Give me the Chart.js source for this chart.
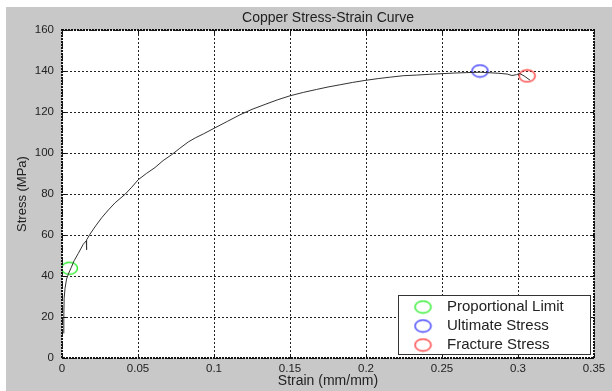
<!DOCTYPE html>
<html lang="en">
<head>
  <meta charset="UTF-8">
  <title>Copper Stress-Strain Curve</title>
  <style>
    html, body { margin: 0; padding: 0; background: #ffffff; }
    .chartBox { width: 612px; height: 391px; }
  </style>
</head>
<body>
<div class="chartBox">
  <canvas id="myChart" width="612" height="391"></canvas>
</div>
<script src="https://cdn.jsdelivr.net/npm/chart.js"></script>
<script>
  // curve
  const strain = [0.0012, 0.0012, 0.0014, 0.0020, 0.0030, 0.0045, 0.0060, 0.0080, 0.0107, 0.0140,
    0.0160, 0.0161, 0.0163, 0.0184, 0.0222, 0.0261, 0.0305, 0.0349, 0.0414, 0.0455,
    0.0502, 0.0555, 0.0612, 0.0665, 0.0722, 0.0775, 0.0831, 0.0880, 0.0930, 0.1007,
    0.1090, 0.1170, 0.1250, 0.1336, 0.1420, 0.1500, 0.1590, 0.1675, 0.1750, 0.1830,
    0.1910, 0.1993, 0.2080, 0.2160, 0.2245, 0.2330, 0.2420, 0.2500, 0.2580, 0.2660,
    0.2750, 0.2800, 0.2870, 0.2930, 0.2960, 0.2990, 0.3010, 0.3040, 0.3080];
  const stress = [12, 20, 29, 34, 38.5, 41.5, 44, 47.5, 51, 55.5,
    57.2, 52.8, 57.6, 60.4, 64.5, 68.4, 72.2, 75.7, 79.8, 83,
    87, 90, 92.9, 96.3, 99.2, 102.3, 105.4, 107.5, 109.3, 112.3,
    115.5, 118.6, 121.3, 123.7, 126.0, 127.9, 129.6, 131.0, 132.2, 133.3,
    134.4, 135.4, 136.3, 137.0, 137.7, 138.0, 138.4, 138.7, 139.0, 139.2,
    139.4, 139.2, 138.9, 138.5, 137.8, 138.2, 138.8, 137.6, 135.5];

  const markerLabels = ['Proportional Limit', 'Ultimate Stress', 'Fracture Stress'];
  const markerStrain = [0.0049, 0.275, 0.306];
  const markerStress = [43.8, 140, 137.6];
  const markerColors = ['#33ee33', '#4444ff', '#ff4444'];

  const xTicks = [0, 0.05, 0.1, 0.15, 0.2, 0.25, 0.3, 0.35];
  const yTicks = [0, 20, 40, 60, 80, 100, 120, 140, 160];

  const FONT = '"Liberation Sans", Arial, sans-serif';

  // ellipse marker drawn once on a small canvas
  function makeMarker(color) {
    const c = document.createElement('canvas');
    c.width = 19;
    c.height = 15;
    const g = c.getContext('2d');
    g.strokeStyle = color;
    g.lineWidth = 1.5;
    g.beginPath();
    g.ellipse(9.5, 7.5, 8, 6, 0, 0, Math.PI * 2);
    g.stroke();
    return c;
  }
  const markerImgs = markerColors.map(makeMarker);

  let datasets = [{
    label: 'curve',
    data: strain.map((s, i) => ({x: s, y: stress[i]})),
    showLine: true,
    borderColor: '#333333',
    borderWidth: 1,
    pointRadius: 0,
    tension: 0
  }];
  for (let i = 0; i < markerLabels.length; i++) {
    datasets.push({
      label: markerLabels[i],
      data: [{x: markerStrain[i], y: markerStress[i]}],
      pointStyle: markerImgs[i],
      borderColor: markerColors[i],
      showLine: false
    });
  }

  // gray figure background, white strip at top/left edge
  const bgPlugin = {
    id: 'bg',
    beforeDraw(chart) {
      const c = chart.ctx;
      c.save();
      c.fillStyle = '#ffffff';
      c.fillRect(0, 0, chart.width, chart.height);
      c.fillStyle = '#c8c8c8';
      c.fillRect(6, 7, chart.width - 6, chart.height - 7);
      const a = chart.chartArea;
      c.fillStyle = '#ffffff';
      c.fillRect(a.left, a.top, a.right - a.left, a.bottom - a.top);
      c.restore();
    }
  };

  // dotted frame, inner ticks and legend box
  const framePlugin = {
    id: 'frame',
    afterDatasetsDraw(chart) {
      const c = chart.ctx;
      const a = chart.chartArea;
      c.save();
      c.strokeStyle = '#111111';
      c.lineWidth = 2;
      c.setLineDash([2, 1]);
      c.strokeRect(a.left, a.top, a.right - a.left, a.bottom - a.top);
      c.setLineDash([]);
      c.lineWidth = 1;
      xTicks.forEach(v => {
        const px = Math.round(chart.scales.x.getPixelForValue(v)) + 0.5;
        c.beginPath();
        c.moveTo(px, a.bottom); c.lineTo(px, a.bottom - 4);
        c.moveTo(px, a.top); c.lineTo(px, a.top + 4);
        c.stroke();
      });
      yTicks.forEach(v => {
        const py = Math.round(chart.scales.y.getPixelForValue(v)) + 0.5;
        c.beginPath();
        c.moveTo(a.left, py); c.lineTo(a.left + 4, py);
        c.moveTo(a.right, py); c.lineTo(a.right - 4, py);
        c.stroke();
      });

      // legend
      const bx = a.right - 196, by = a.bottom - 63, bw = 192, bh = 59;
      c.fillStyle = '#ffffff';
      c.fillRect(bx, by, bw, bh);
      c.strokeStyle = '#333333';
      c.lineWidth = 1;
      c.strokeRect(bx + 0.5, by + 0.5, bw, bh);
      c.font = '15px ' + FONT;
      c.fillStyle = '#222222';
      c.textBaseline = 'middle';
      for (let i = 1; i < chart.data.datasets.length; i++) {
        const ds = chart.data.datasets[i];
        const cy = by + 12 + (i - 1) * 19;
        c.drawImage(ds.pointStyle, bx + 25 - 9.5, cy - 7.5);
        c.fillText(ds.label, bx + 49, cy);
      }
      c.restore();
    }
  };

  const ctx = document.getElementById('myChart');
  const myChart = new Chart(ctx, {
    type: 'scatter',
    data: {datasets: datasets},
    options: {
      responsive: false,
      animation: false,
      layout: {padding: {top: 0, right: 18, bottom: 0, left: 0}},
      plugins: {
        legend: {display: false},
        tooltip: {enabled: false},
        title: {
          display: true,
          text: 'Copper Stress-Strain Curve',
          fullSize: false,
          color: '#222222',
          font: {family: FONT, size: 14, weight: 'normal'},
          padding: {top: 9.6, bottom: 3.6}
        }
      },
      scales: {
        x: {
          type: 'linear',
          min: 0,
          max: 0.35,
          afterBuildTicks: s => { s.ticks = xTicks.map(v => ({value: v})); },
          afterFit: s => { s.height = 33; },
          ticks: {
            color: '#222222',
            font: {family: FONT, size: 11.5},
            padding: 4,
            maxRotation: 0,
            callback: v => String(v)
          },
          grid: {color: '#222222', lineWidth: 1, drawTicks: false},
          border: {display: false, dash: [2, 2]},
          title: {
            display: true,
            text: 'Strain (mm/mm)',
            color: '#222222',
            font: {family: FONT, size: 14},
            padding: {top: 0, bottom: 1}
          }
        },
        y: {
          min: 0,
          max: 160,
          afterBuildTicks: s => { s.ticks = yTicks.map(v => ({value: v})); },
          afterFit: s => { s.width = 62; },
          ticks: {
            color: '#222222',
            font: {family: FONT, size: 11.5},
            padding: 8
          },
          grid: {color: '#222222', lineWidth: 1, drawTicks: false},
          border: {display: false, dash: [2, 2]},
          title: {
            display: true,
            text: 'Stress (MPa)',
            color: '#222222',
            font: {family: FONT, size: 13},
            padding: {top: 15, bottom: 0}
          }
        }
      }
    },
    plugins: [bgPlugin, framePlugin]
  });
</script>
</body>
</html>
